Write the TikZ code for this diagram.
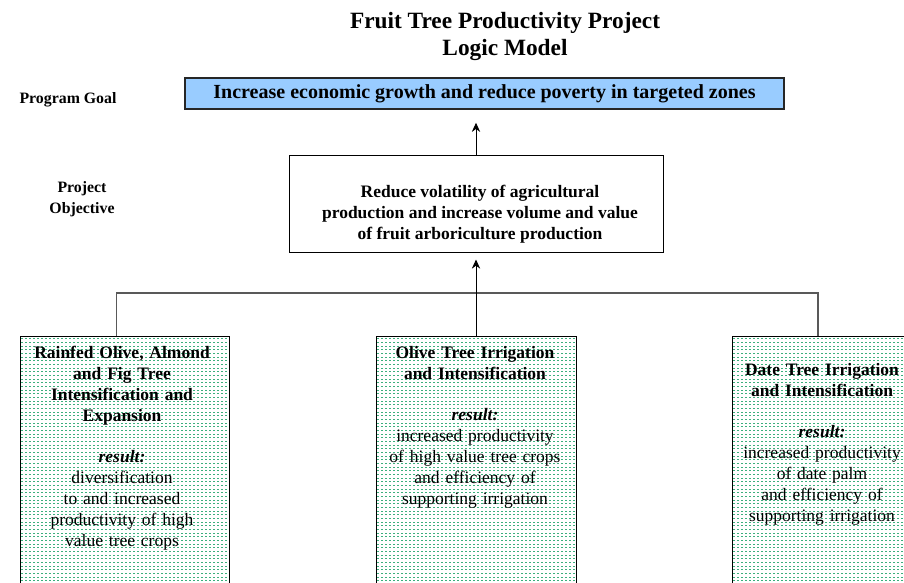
\documentclass[tikz,border=0pt]{standalone}
\usepackage{fontspec}
\setmainfont{Liberation Serif}
\usepackage{xcolor}
\usepackage{tikz}
\usetikzlibrary{arrows.meta}
\definecolor{goalblue}{RGB}{153,204,255}
\definecolor{dotgreen}{RGB}{60,175,125}
\newcommand{\boxtext}{\fontsize{10.5}{12.5}\selectfont}

\begin{document}
\begin{tikzpicture}[x=0.6pt,y=-0.6pt,
    heading/.style={font=\bfseries\fontsize{14}{16.2}\selectfont, align=center},
    sidelabel/.style={font=\bfseries\fontsize{9.5}{12.6}\selectfont, align=center},
    goalbox/.style={draw=black!85, line width=0.9pt, fill=goalblue, minimum width=359.4pt,
        minimum height=18.6pt, font=\bfseries\fontsize{12}{14}\selectfont},
    objbox/.style={draw, line width=0.6pt, minimum width=224.4pt, minimum height=58.2pt},
    fieldbox/.style={draw, line width=0.6pt, minimum height=160pt, anchor=north},
    dotrow/.style={dotgreen, line width=0.5pt, dash pattern=on 0.8pt off 1.6pt},
    fieldtext/.style={font=\boxtext, align=center, text width=120pt, anchor=north, inner sep=0pt},
    link/.style={draw=black!65, line width=0.8pt},
    up/.style={line width=0.6pt, -{Stealth[length=5.5pt,width=5pt]}}]
    \clip (0,0) rectangle (904,582);
    \fill[white] (0,0) rectangle (904,582);
    \node[heading] (title) at (505,36) {Fruit Tree Productivity Project\\Logic Model};
    \node[sidelabel] (goallabel) at (68,100) {Program Goal};
    \node[sidelabel] (objlabel) at (82,199.5) {Project\\Objective};
    \node[goalbox] (goal) at (484.5,93.5) {Increase economic growth and reduce poverty in targeted zones};
    \node[objbox] (objective) at (476,203.5) {};
    \node[font=\bfseries\fontsize{10.5}{12.6}\selectfont, align=center] (objtext) at (480,214)
        {Reduce volatility of agricultural\\production and increase volume and value\\of fruit arboriculture production};
    \node[fieldbox, minimum width=125.4pt] (rainfed) at (124.5,336) {};
    \node[fieldbox, minimum width=120pt] (olive) at (476,336) {};
    \node[fieldbox, minimum width=108pt] (date) at (822,336) {};
    \foreach \field in {rainfed,olive,date}{
        \begin{scope}
            \clip ([xshift=0.5pt,yshift=-0.5pt]\field.north west) rectangle ([xshift=-0.5pt]\field.south east);
            \foreach \k in {0,...,72}
                \draw[dotrow] ([xshift=1pt,yshift=-\k*2.2pt-1.6pt]\field.north west)
                    -- ([yshift=-\k*2.2pt-1.6pt]\field.north east);
        \end{scope}
    }
    \node[fieldtext] (rainfedtext) at (122,346) {{\bfseries Rainfed Olive, Almond\\and Fig Tree\\Intensification and\\Expansion}\\[12.5pt]
        \textbf{\textit{result:}}\\diversification\\to and increased\\productivity of high\\value tree crops};
    \node[fieldtext] (olivetext) at (475,346) {{\bfseries Olive Tree Irrigation\\and Intensification}\\[12.5pt]
        \textbf{\textit{result:}}\\increased productivity\\of high value tree crops\\and efficiency of\\supporting irrigation};
    \node[fieldtext] (datetext) at (822,363) {{\bfseries Date Tree Irrigation\\and Intensification}\\[12.5pt]
        \textbf{\textit{result:}}\\increased productivity\\of date palm\\and efficiency of\\supporting irrigation};
    \coordinate (junction) at (480,293);
    \draw[link] ([xshift=-5pt]rainfed.north) |- (junction) -| ([xshift=-2.4pt]date.north);
    \draw[up, shorten >=7.8pt] (objective.north) -- (objective.north |- goal.south);
    \draw[up, shorten >=4.2pt] (olive.north) -- (olive.north |- objective.south);
\end{tikzpicture}
\end{document}
